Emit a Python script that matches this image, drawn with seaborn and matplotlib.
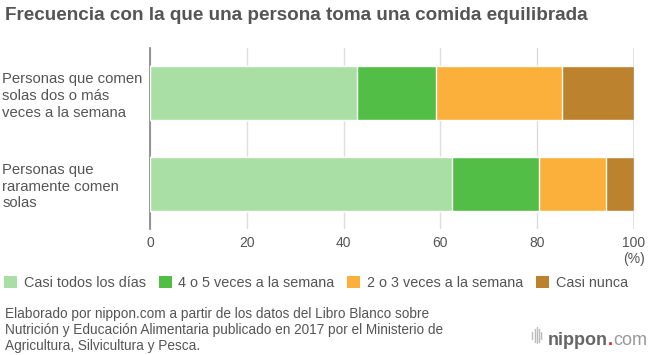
import numpy as np
import pandas as pd
import seaborn as sns
import matplotlib.pyplot as plt
from matplotlib.patches import Patch

groups = ["Personas que comen\nsolas dos o más\nveces a la semana",
          "Personas que\nraramente comen\nsolas"]
series = ["Casi todos los días", "4 o 5 veces a la semana",
          "2 o 3 veces a la semana", "Casi nunca"]
casi_todos = [42.8, 62.4]
cuatro_cinco = [16.3, 18.0]
dos_tres = [26.0, 13.8]
casi_nunca = [14.9, 5.8]
colors = ["#a9dfa4", "#52be46", "#fab03b", "#bd822d"]

sns.set_theme(style="white")
plt.rcParams['font.family'] = ['Liberation Sans', 'DejaVu Sans']

df = pd.DataFrame({"grupo": groups, series[0]: casi_todos, series[1]: cuatro_cinco,
                   series[2]: dos_tres, series[3]: casi_nunca})
cum = df[series].cumsum(axis=1)

fig = plt.figure(figsize=(6.5, 3.55), dpi=100)
ax = fig.add_axes([0.2308, 0.355, 0.7446, 0.5098])

# draw stacked bars from the longest (cumulative) to the shortest
for s, c in reversed(list(zip(series, colors))):
    sns.barplot(x=cum[s], y=df["grupo"], color=c, width=0.6, saturation=1,
                orient="h", ax=ax, zorder=3)

ax.set_xlim(0, 100)
ax.set_ylim(1.5, -0.5)
ax.set_xticks([0, 20, 40, 60, 80, 100])
ax.set_xticklabels(["0", "20", "40", "60", "80", "100\n(%)"], fontsize=10, color="#555555",
                   va="top", linespacing=1.2)
ax.tick_params(axis="x", length=0, pad=5)
ax.tick_params(axis="y", length=0, pad=0)
ax.set_yticklabels(groups, fontsize=10.7, color="#555555", ha="left", linespacing=1.25)
for lab in ax.get_yticklabels():
    lab.set_x(-0.2308 / 0.7446 + 0.005)
    lab.set_transform(ax.get_yaxis_transform())
ax.set_xlabel("")
ax.set_ylabel("")
ax.grid(axis="x", color="#dddddd", linewidth=1, zorder=0)
for side in ["top", "right", "bottom"]:
    ax.spines[side].set_visible(False)
ax.spines["left"].set_color("#888888")
ax.axvline(100, color="#888888", linewidth=1, zorder=4)

fig.text(0.008, 0.955, "Frecuencia con la que una persona toma una comida equilibrada",
         fontsize=13.6, fontweight="bold", color="#555555", va="center")

handles = [Patch(facecolor=c, edgecolor="none") for c in colors]
fig.legend(handles, series, loc="center left", bbox_to_anchor=(4 / 650, 0.203), ncol=4,
           frameon=False, fontsize=10.4, handlelength=0.9, handleheight=0.9,
           handletextpad=0.45, columnspacing=0.9, borderpad=0, borderaxespad=0,
           labelcolor="#555555")

fig.text(0.008, 0.07,
         "Elaborado por nippon.com a partir de los datos del Libro Blanco sobre\n"
         "Nutrición y Educación Alimentaria publicado en 2017 por el Ministerio de\n"
         "Agricultura, Silvicultura y Pesca.",
         fontsize=9.8, color="#555555", va="center", linespacing=1.2)

# logo: nippon.com, right-aligned near the bottom-right corner
t3 = fig.text(647 / 650, 0.028, "com", fontsize=13, color="#999999", ha="right")
fig.canvas.draw()
bb3 = t3.get_window_extent()
t2 = fig.text(bb3.x0 / 650, 0.028, ".", fontsize=13, fontweight="bold", color="#e8222f",
              ha="right")
fig.canvas.draw()
bb2 = t2.get_window_extent()
t1 = fig.text(bb2.x0 / 650, 0.028, "nippon", fontsize=13, fontweight="bold",
              color="#666666", ha="right")
fig.canvas.draw()
x0 = t1.get_window_extent().x0 / 650
for xx, h in zip(np.linspace(x0 - 0.024, x0 - 0.01, 5), [0.02, 0.035, 0.045, 0.035, 0.02]):
    fig.add_artist(plt.Line2D([xx, xx], [0.055 - h / 2, 0.055 + h / 2],
                              color="#bbbbbb", linewidth=1))

fig.savefig("out.png", dpi=100)
